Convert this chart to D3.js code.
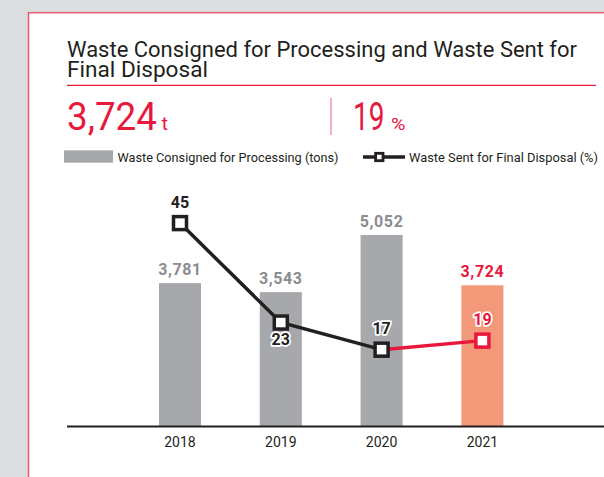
<!DOCTYPE html>
<html>
<head>
<meta charset="utf-8">
<script src="https://cdn.jsdelivr.net/npm/d3@7"></script>
<style>
  html, body { margin: 0; padding: 0; background: #dcdddf; }
  svg { display: block; font-family: Roboto, "Noto Sans", sans-serif; }
</style>
</head>
<body>
<svg id="chart" width="604" height="477"></svg>
<script>
const years = ["2018", "2019", "2020", "2021"];
const wasteTons = [3781, 3543, 5052, 3724];
const finalDisposalPct = [45, 23, 17, 19];
const titleLines = ["Waste Consigned for Processing and Waste Sent for", "Final Disposal"];
const legendLabels = ["Waste Consigned for Processing (tons)", "Waste Sent for Final Disposal (%)"];

const RED = "#e8183c", DARK = "#231f20", GRAY = "#a7a8ab", SALMON = "#f4987a";
const fmt = d3.format(",");
const svg = d3.select("#chart");

// squeeze text to the condensed widths seen in the reference
function fit(sel, w) {
  sel.attr("textLength", w).attr("lengthAdjust", "spacingAndGlyphs");
  return sel;
}

// card
svg.append("rect")
  .attr("x", 28.5).attr("y", 12.7).attr("width", 640).attr("height", 520)
  .attr("fill", "#fff").attr("stroke", "#e95c6f").attr("stroke-width", 1.5);

// title
fit(svg.append("text").attr("x", 67).attr("y", 56.5)
  .attr("font-size", 22).attr("fill", DARK).text(titleLines[0]), 510);
fit(svg.append("text").attr("x", 67).attr("y", 76.5)
  .attr("font-size", 22).attr("fill", DARK).text(titleLines[1]), 141);
svg.append("line").attr("x1", 67).attr("x2", 596).attr("y1", 85.3).attr("y2", 85.3)
  .attr("stroke", RED).attr("stroke-width", 1.3);

// headline figures
const last = years.length - 1;
fit(svg.append("text").attr("x", 67).attr("y", 130).attr("font-size", 38)
  .attr("fill", RED).text(fmt(wasteTons[last])), 90);
fit(svg.append("text").attr("x", 161.5).attr("y", 130).attr("font-size", 18)
  .attr("fill", RED).text("t"), 6.5);
svg.append("line").attr("x1", 331).attr("x2", 331).attr("y1", 98).attr("y2", 135)
  .attr("stroke", "#ee7d8c").attr("stroke-width", 1.2);
fit(svg.append("text").attr("x", 353).attr("y", 130).attr("font-size", 38)
  .attr("fill", RED).text(finalDisposalPct[last]), 31.5);
fit(svg.append("text").attr("x", 391).attr("y", 130).attr("font-size", 17)
  .attr("fill", RED).text("%"), 14.5);

// legend
svg.append("rect").attr("x", 64).attr("y", 150.3).attr("width", 49).attr("height", 12.4)
  .attr("fill", GRAY);
fit(svg.append("text").attr("x", 117.5).attr("y", 161.5).attr("font-size", 13.5)
  .attr("fill", DARK).text(legendLabels[0]), 221);
svg.append("line").attr("x1", 363).attr("x2", 405).attr("y1", 157).attr("y2", 157)
  .attr("stroke", DARK).attr("stroke-width", 3.5);
svg.append("rect").attr("x", 379.3 - 3.7).attr("y", 157 - 3.7).attr("width", 7.4).attr("height", 7.4)
  .attr("fill", "#fff").attr("stroke", DARK).attr("stroke-width", 2.8);
fit(svg.append("text").attr("x", 409).attr("y", 161.5).attr("font-size", 13.5)
  .attr("fill", DARK).text(legendLabels[1]), 189);

// scales
const baseY = 426.5;
const x = d3.scaleBand().domain(years).range([129.6, 532.8])
  .paddingInner(0.583).paddingOuter(0.2915);
const yBar = d3.scaleLinear().domain([0, 6000]).range([baseY, baseY - 227.5]);
const yPct = d3.scaleLinear().domain([0, 50]).range([baseY, baseY - 226]);
const cx = d => x(d) + x.bandwidth() / 2;

const data = years.map((y, i) => ({ year: y, tons: wasteTons[i], pct: finalDisposalPct[i], latest: i === last }));

// bars
svg.append("g").selectAll("rect").data(data).join("rect")
  .attr("x", d => x(d.year)).attr("width", x.bandwidth())
  .attr("y", d => yBar(d.tons)).attr("height", d => baseY - yBar(d.tons))
  .attr("fill", d => d.latest ? SALMON : GRAY);

svg.append("g").selectAll("text").data(data).join("text")
  .attr("x", d => cx(d.year)).attr("y", d => yBar(d.tons) - 8)
  .attr("text-anchor", "middle").attr("font-size", 16).attr("font-weight", 700)
  .attr("letter-spacing", 0.6)
  .attr("fill", d => d.latest ? RED : "#8b8c8f")
  .text(d => fmt(d.tons));

// axis
svg.append("line").attr("x1", 67).attr("x2", 604).attr("y1", baseY).attr("y2", baseY)
  .attr("stroke", DARK).attr("stroke-width", 1.8);
svg.append("g").selectAll("text").data(years).join("text")
  .attr("x", d => cx(d)).attr("y", 446.7)
  .attr("text-anchor", "middle").attr("font-size", 14).attr("fill", DARK)
  .text(d => d);

// line: black up to 2020, red for the latest segment
const line = d3.line().x(d => cx(d.year)).y(d => yPct(d.pct));
svg.append("path").datum(data.slice(0, last))
  .attr("d", line).attr("fill", "none").attr("stroke", DARK).attr("stroke-width", 3.5);
svg.append("path").datum(data.slice(last - 1))
  .attr("d", line).attr("fill", "none").attr("stroke", RED).attr("stroke-width", 3.5);

const m = 13;
svg.append("g").selectAll("rect").data(data).join("rect")
  .attr("x", d => cx(d.year) - m / 2).attr("y", d => yPct(d.pct) - m / 2)
  .attr("width", m).attr("height", m)
  .attr("fill", "#fff").attr("stroke", d => d.latest ? RED : DARK).attr("stroke-width", 3.5);

// 2019 label sits under its marker, the steep line would cross it otherwise
svg.append("g").selectAll("text").data(data).join("text")
  .attr("x", d => cx(d.year))
  .attr("y", d => yPct(d.pct) + (d.year === "2019" ? 22.5 : -15.5))
  .attr("text-anchor", "middle").attr("font-size", 16).attr("font-weight", 700)
  .attr("fill", d => d.latest ? RED : DARK)
  .attr("stroke", "#fff").attr("stroke-width", 3.5).attr("stroke-linejoin", "round")
  .attr("paint-order", "stroke")
  .text(d => d.pct);
</script>
</body>
</html>
